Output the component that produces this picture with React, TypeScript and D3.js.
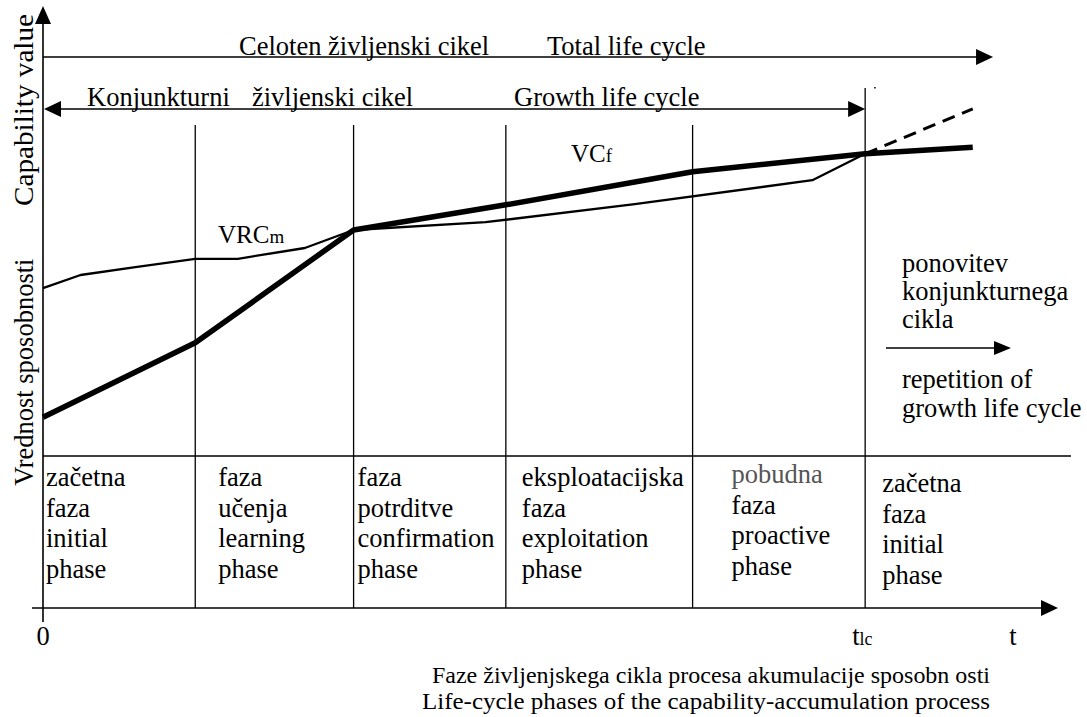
import React from "react"
import * as d3 from "d3"

// time axis: 0..100 (relative units), value axis: 0..100
const phaseStarts = [0, 15.0, 30.6, 45.6, 64.0, 81.0]
const phaseNames = [
    ["začetna", "faza", "initial", "phase"],
    ["faza", "učenja", "learning", "phase"],
    ["faza", "potrditve", "confirmation", "phase"],
    ["eksploatacijska", "faza", "exploitation", "phase"],
    ["pobudna", "faza", "proactive", "phase"],
    ["začetna", "faza", "initial", "phase"],
]
const tLifeCycle = 81.0
const tTotalEnd = 93.6

// VC_f (thick)
const vcfT = [0, 15.0, 30.6, 45.6, 64.0, 81.0, 91.6]
const vcfV = [31.8, 44.2, 63.0, 67.2, 72.7, 75.7, 76.8]

// VRC_m (thin)
const vrcT = [0, 3.7, 9.1, 15.0, 19.2, 25.8, 30.6, 43.6, 58.3, 75.8, 81.0]
const vrcV = [53.3, 55.5, 56.8, 58.2, 58.2, 60.0, 63.0, 64.3, 67.3, 71.3, 75.7]

// repeated growth cycle (dashed)
const repT = [81.0, 91.6]
const repV = [75.7, 83.2]

const tickLabels = ["0", "t", "t"]

const FONT = "Liberation Serif, Tinos, Times New Roman, Times, Nimbus Roman, DejaVu Serif, serif"

const App = () => {
    const W = 1087
    const H = 717
    const x = d3.scaleLinear().domain([0, 100]).range([43, 1058])
    const y = d3.scaleLinear().domain([0, 100]).range([608, 8])
    const zip = (a: number[], b: number[]) => a.map((t, i) => [t, b[i]] as [number, number])
    const line = d3
        .line<[number, number]>()
        .x((d) => x(d[0]))
        .y((d) => y(d[1]))

    const arrow = (tx: number, ty: number, dir: string, len = 16, half = 8) => {
        let pts: number[][] = []
        if (dir === "right") pts = [[tx, ty], [tx - len, ty - half], [tx - len, ty + half]]
        if (dir === "left") pts = [[tx, ty], [tx + len, ty - half], [tx + len, ty + half]]
        if (dir === "up") pts = [[tx, ty], [tx - half, ty + len], [tx + half, ty + len]]
        return <polygon points={pts.map((p) => p.join(",")).join(" ")} fill="#000" />
    }

    const sepY = 456
    const labelDx = [3, 23, 4, 16, 39, 17]
    const labelDy = [0, 0, 0, 0, -3, 6]

    return (
        <svg
            width={W}
            height={H}
            style={{ position: "absolute", left: 0, top: 0, background: "#fff", fontFamily: FONT }}
        >
            {/* axes */}
            <line x1={x(0)} y1={622} x2={x(0)} y2={20} stroke="#000" strokeWidth={1.6} />
            {arrow(x(0), 6, "up", 18, 8)}
            <line x1={32} y1={y(0)} x2={1044} y2={y(0)} stroke="#000" strokeWidth={1.6} />
            {arrow(x(100), y(0), "right", 17, 8)}

            {/* separator */}
            <line x1={x(0)} y1={sepY} x2={1071} y2={sepY} stroke="#000" strokeWidth={1.4} />

            {/* phase boundaries */}
            {phaseStarts.slice(1).map((t, i) => (
                <line
                    key={"v" + i}
                    x1={x(t)}
                    x2={x(t)}
                    y1={t === tLifeCycle ? 88 : 125}
                    y2={y(0)}
                    stroke="#000"
                    strokeWidth={1.3}
                />
            ))}
            <rect x={x(tLifeCycle) + 9} y={87} width={1.5} height={1.5} fill="#000" />

            {/* total life cycle */}
            <line x1={x(0)} y1={57} x2={x(tTotalEnd) - 14} y2={57} stroke="#000" strokeWidth={1.4} />
            {arrow(x(tTotalEnd), 57, "right", 17, 8)}
            <text x={239} y={55} fontSize={26.5}>Celoten življenski cikel</text>
            <text x={547} y={55} fontSize={26.5}>Total life cycle</text>

            {/* growth life cycle */}
            <line x1={x(0) + 10} y1={109} x2={x(tLifeCycle) - 10} y2={109} stroke="#000" strokeWidth={1.4} />
            {arrow(x(0) + 1, 109, "left", 17, 8)}
            {arrow(x(tLifeCycle), 109, "right", 17, 8)}
            <text x={87} y={106} fontSize={26.5}>Konjunkturni</text>
            <text x={252} y={106} fontSize={26.5}>življenski cikel</text>
            <text x={514} y={106} fontSize={26.5}>Growth life cycle</text>

            {/* curves */}
            <path d={line(zip(vrcT, vrcV)) || ""} fill="none" stroke="#000" strokeWidth={2.3} strokeLinejoin="round" />
            <path d={line(zip(vcfT, vcfV)) || ""} fill="none" stroke="#000" strokeWidth={5.5} strokeLinejoin="round" />
            <path
                d={line(zip(repT, repV)) || ""}
                fill="none"
                stroke="#000"
                strokeWidth={3}
                strokeDasharray="13 8"
            />

            <text x={571} y={162} fontSize={25}>
                VC<tspan fontSize={19}>f</tspan>
            </text>
            <text x={218} y={243} fontSize={25}>
                VRC<tspan fontSize={19}>m</tspan>
            </text>

            {/* repetition note */}
            {["ponovitev", "konjunkturnega", "cikla"].map((s, i) => (
                <text key={"p" + i} x={902} y={272 + i * 28} fontSize={26.5}>{s}</text>
            ))}
            <line x1={886} y1={348} x2={997} y2={348} stroke="#000" strokeWidth={1.4} />
            {arrow(1011, 348, "right", 17, 7)}
            {["repetition of", "growth life cycle"].map((s, i) => (
                <text key={"r" + i} x={902} y={388 + i * 29} fontSize={26.5}>{s}</text>
            ))}

            {/* phase labels */}
            {phaseNames.map((lines, ci) =>
                lines.map((s, li) => (
                    <text
                        key={"ph" + ci + li}
                        x={x(phaseStarts[ci]) + labelDx[ci]}
                        y={486 + labelDy[ci] + li * 30.7}
                        fontSize={26.5}
                        fill={ci === 4 && li === 0 ? "#555" : "#000"}
                    >
                        {s}
                    </text>
                )),
            )}

            {/* y labels */}
            <text
                transform={`translate(33,${y(83)}) rotate(-90)`}
                textAnchor="middle"
                fontSize={27.5}
                textLength={192}
                lengthAdjust="spacingAndGlyphs"
            >
                Capability value
            </text>
            <text
                transform={`translate(33,${y(39.3)}) rotate(-90)`}
                textAnchor="middle"
                fontSize={26.5}
            >
                Vrednost sposobnosti
            </text>

            {/* x tick labels */}
            <text x={x(0)} y={645} fontSize={26.5} textAnchor="middle">{tickLabels[0]}</text>
            <text x={x(tLifeCycle) - 13} y={645} fontSize={26.5}>
                {tickLabels[1]}
                <tspan fontSize={18}>lc</tspan>
            </text>
            <text x={1013} y={645} fontSize={26.5} textAnchor="middle">{tickLabels[2]}</text>

            {/* caption */}
            <text x={432} y={683} fontSize={23} textLength={558} lengthAdjust="spacingAndGlyphs">
                Faze življenjskega cikla procesa akumulacije sposobn osti
            </text>
            <text x={422} y={709} fontSize={23} textLength={568} lengthAdjust="spacingAndGlyphs">
                Life-cycle phases of the capability-accumulation process
            </text>
        </svg>
    )
}

export default App
